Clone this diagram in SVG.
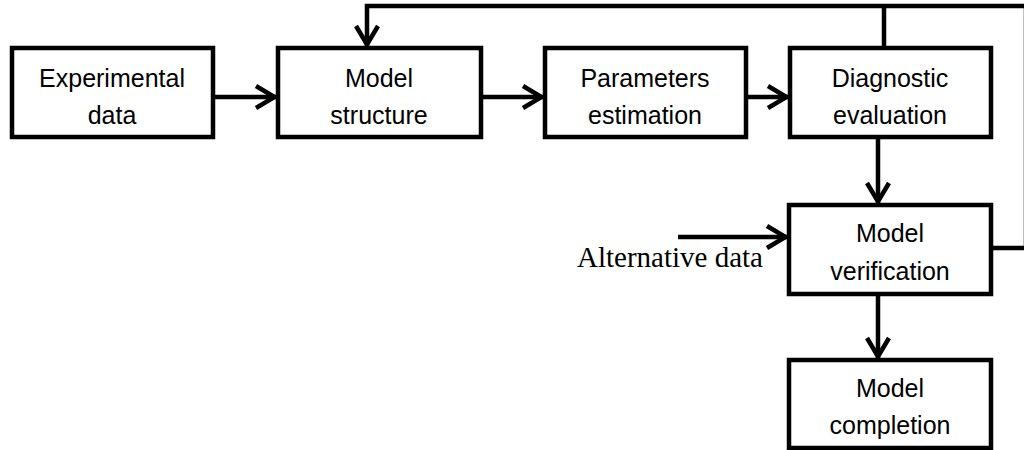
<svg xmlns="http://www.w3.org/2000/svg" width="1024" height="450" viewBox="0 0 1024 450">
<style>
.box{fill:#fff;stroke:#000;stroke-width:4.5}
.lbl{font-family:"Liberation Sans",Arial,sans-serif;font-size:25px;fill:#000;text-anchor:middle}
.conn{fill:none;stroke:#000;stroke-width:4.5}
.alt{font-family:"Liberation Serif","Times New Roman",serif;font-size:29px;fill:#000}
</style>
<defs>
<marker id="ah" markerUnits="userSpaceOnUse" viewBox="-24 -14 26 28" markerWidth="26" markerHeight="28" refX="0" refY="0" orient="auto">
<path d="M-20,-11 L-1.5,0 L-20,11" fill="none" stroke="#000" stroke-width="4.5"/>
</marker>
</defs>
<rect width="1024" height="450" fill="#fff"/>
<g id="connectors">
<path class="conn" d="M213,97 H276" marker-end="url(#ah)"/>
<path class="conn" d="M481,97 H543" marker-end="url(#ah)"/>
<path class="conn" d="M746,97 H788" marker-end="url(#ah)"/>
<path class="conn" d="M878,137 V203" marker-end="url(#ah)"/>
<path class="conn" d="M878,294 V358" marker-end="url(#ah)"/>
<path class="conn" d="M678,237 H787" marker-end="url(#ah)"/>
<path class="conn" d="M991,248 H1026 V6 H367 V46" marker-end="url(#ah)"/>
<path class="conn" d="M884,6 V48"/>
</g>
<g id="experimental-data">
<rect class="box" x="12" y="48" width="201" height="89"/>
<text class="lbl" x="112" y="87">Experimental</text>
<text class="lbl" x="112" y="124">data</text>
</g>
<g id="model-structure">
<rect class="box" x="278" y="48" width="203" height="89"/>
<text class="lbl" x="379" y="87">Model</text>
<text class="lbl" x="379" y="124">structure</text>
</g>
<g id="parameters-estimation">
<rect class="box" x="545" y="48" width="201" height="89"/>
<text class="lbl" x="645" y="87">Parameters</text>
<text class="lbl" x="645" y="124">estimation</text>
</g>
<g id="diagnostic-evaluation">
<rect class="box" x="790" y="48" width="201" height="89"/>
<text class="lbl" x="890" y="87">Diagnostic</text>
<text class="lbl" x="890" y="124">evaluation</text>
</g>
<g id="model-verification">
<rect class="box" x="789" y="205" width="202" height="89"/>
<text class="lbl" x="890" y="242">Model</text>
<text class="lbl" x="890" y="280">verification</text>
</g>
<g id="model-completion">
<rect class="box" x="789" y="360" width="202" height="88"/>
<text class="lbl" x="890" y="397">Model</text>
<text class="lbl" x="890" y="434">completion</text>
</g>
<g id="alternative-data">
<text class="alt" x="577" y="267">Alternative data</text>
</g>
</svg>
